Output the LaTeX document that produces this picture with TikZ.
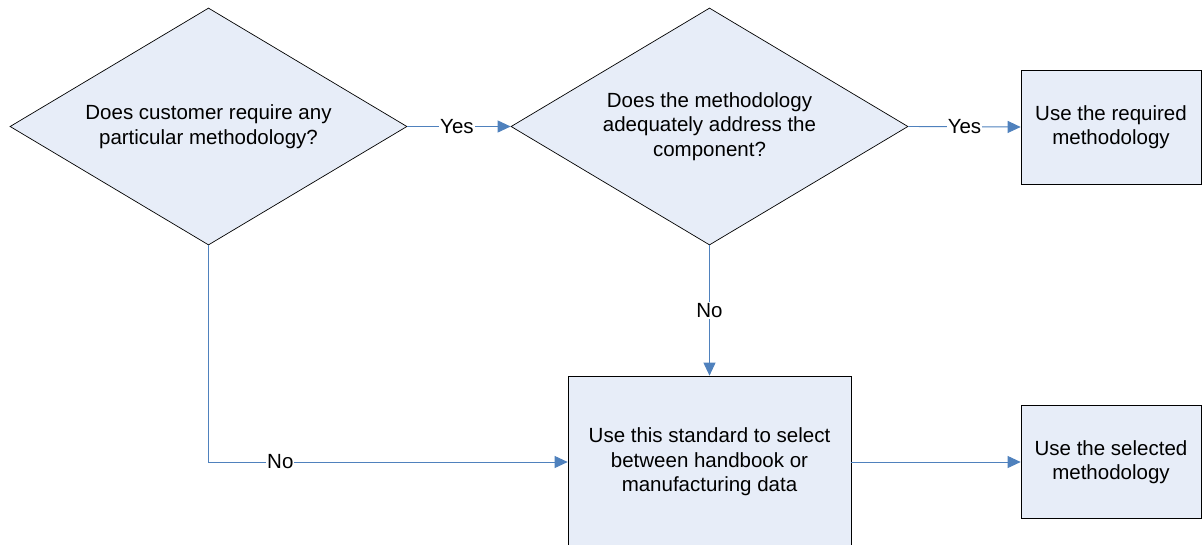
\documentclass[tikz,border=0pt]{standalone}
\usepackage{fontspec}
\setmainfont{Liberation Sans}
\usetikzlibrary{shapes.geometric,arrows.meta}
\definecolor{boxfill}{HTML}{E7EDF8}
\definecolor{linkblue}{HTML}{4F81BD}
\tikzset{
  decision/.style={diamond, draw=black, fill=boxfill, line width=0.7pt, inner sep=0pt,
    minimum width=397pt, minimum height=237pt, aspect=1.675, align=center, font=\fontsize{20.5}{24.5}\selectfont},
  procbox/.style={rectangle, draw=black, fill=boxfill, line width=0.7pt, inner sep=0pt, align=center, font=\fontsize{20.5}{24.5}\selectfont},
  link/.style={draw=linkblue, line width=0.9pt, -{Triangle[length=13pt,width=12pt]}},
  lbl/.style={fill=white, inner sep=1pt, font=\fontsize{20.5}{24.5}\selectfont}
}
\begin{document}
\begin{tikzpicture}[x=1pt,y=1pt]
\useasboundingbox (0,0) rectangle (1202,-544);
\node[decision] (d1) at (208.5,-126.5) {Does customer require any\\particular methodology?};
\node[decision] (d2) at (709.5,-126.5) {Does the methodology\\adequately address the\\component?};
\node[procbox, minimum width=180pt, minimum height=114pt] (b1) at (1111,-127) {Use the required\\methodology};
\node[procbox, minimum width=283pt, minimum height=172pt] (b2) at (709.5,-462) {Use this standard to select\\between handbook or\\manufacturing data};
\node[procbox, minimum width=180pt, minimum height=113pt] (b3) at (1111,-462) {Use the selected\\methodology};
\draw[link] (d1.east) -- node[lbl, pos=0.48] {Yes} (d2.west);
\draw[link] (d2.east) -- node[lbl, pos=0.5] {Yes} (b1.west);
\draw[link] (d2.south) -- node[lbl, pos=0.5] {No} (b2.north);
\coordinate (c1) at (d1.south |- b2.west);
\draw[link] (d1.south) -- (c1) -- node[lbl, pos=0.2] {No} (b2.west);
\draw[link] (b2.east) -- (b3.west);
\end{tikzpicture}
\end{document}
